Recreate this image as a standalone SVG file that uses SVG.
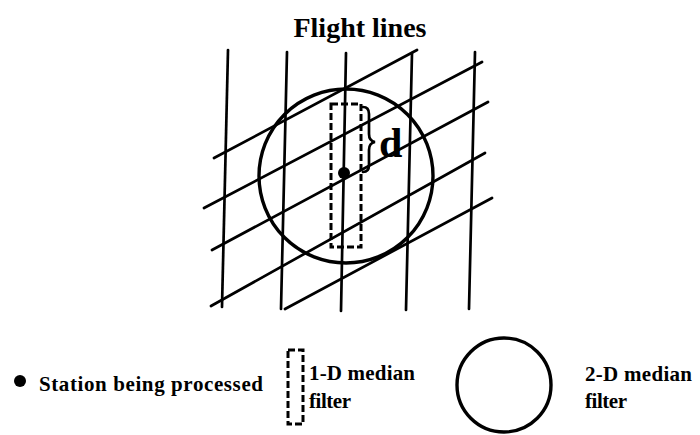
<svg xmlns="http://www.w3.org/2000/svg" width="700" height="435" viewBox="0 0 700 435">
<style>
.ln{stroke:#000;stroke-width:2.7;fill:none;stroke-linecap:round}
.circ{stroke:#000;stroke-width:3.4;fill:none}
.dash{stroke:#000;stroke-width:3;fill:none;stroke-dasharray:7,3}
.t{font-family:"Liberation Serif","Times New Roman",serif;font-weight:bold;fill:#000}
.lg{font-size:21px}
</style>
<rect width="700" height="435" fill="#fff"/>
<text class="t" x="360" y="37" font-size="28" text-anchor="middle">Flight lines</text>
<g id="connectors">
<line class="ln" x1="228" y1="50" x2="222" y2="307"/>
<line class="ln" x1="287" y1="52" x2="281" y2="309"/>
<line class="ln" x1="346" y1="53" x2="341" y2="311"/>
<line class="ln" x1="412" y1="53" x2="406" y2="310"/>
<line class="ln" x1="475" y1="52" x2="469" y2="309"/>
<line class="ln" x1="214" y1="158" x2="417" y2="50"/>
<line class="ln" x1="204" y1="208" x2="482" y2="62"/>
<line class="ln" x1="212" y1="250" x2="488" y2="102"/>
<line class="ln" x1="211" y1="306" x2="485" y2="153"/>
<line class="ln" x1="285" y1="309" x2="492" y2="198"/>
</g>
<g id="filter2d">
<circle class="circ" cx="346" cy="176" r="87"/>
</g>
<g id="filter1d">
<rect class="dash" x="331" y="104" width="30" height="143"/>
</g>
<g id="station">
<circle cx="344" cy="173" r="6" fill="#000"/>
</g>
<g id="distance">
<path class="ln" d="M363,107 Q369,107 369,114 L369,134 Q369,141 375,142 Q369,143 369,150 L369,165 Q369,172 363,172"/>
<text class="t" x="379" y="157" font-size="42">d</text>
</g>
<g id="legend-station">
<circle cx="20" cy="381" r="6" fill="#000"/>
<text class="t lg" x="39" y="391" textLength="224" lengthAdjust="spacing">Station being processed</text>
</g>
<g id="legend-1d">
<rect class="dash" x="288" y="350" width="15" height="74"/>
<text class="t lg" x="309" y="380" textLength="106" lengthAdjust="spacing">1-D median</text>
<text class="t lg" x="309" y="408" textLength="42" lengthAdjust="spacing">filter</text>
</g>
<g id="legend-2d">
<circle class="circ" cx="504" cy="385" r="47"/>
<text class="t lg" x="585" y="381" textLength="107" lengthAdjust="spacing">2-D median</text>
<text class="t lg" x="585" y="408" textLength="42" lengthAdjust="spacing">filter</text>
</g>
</svg>
